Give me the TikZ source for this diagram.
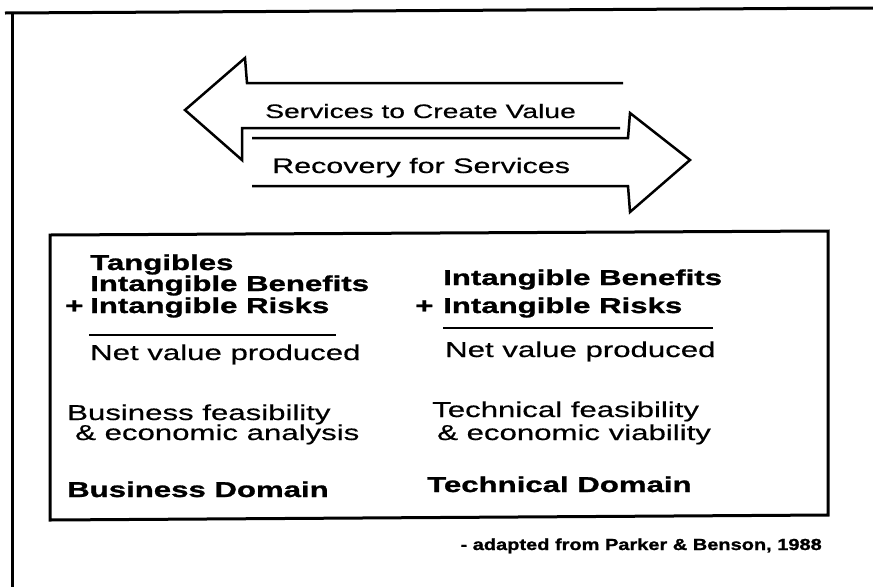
\documentclass[tikz,border=0pt]{standalone}
\usepackage{fontspec}
\setmainfont{Liberation Sans}[FakeStretch=1.45, FakeBold=0.5, BoldFeatures={FakeBold=1.2}]
\newfontfamily\srcfont{Liberation Sans}[FakeStretch=1.25, BoldFeatures={FakeBold=1.2}]
\begin{document}
\begin{tikzpicture}[x=1pt,y=-1pt,
  reg/.style={font=\fontsize{21.5}{21.5}\selectfont, inner sep=0pt, anchor=base west},
  bld/.style={font=\fontsize{21.5}{21.5}\selectfont\bfseries, inner sep=0pt, anchor=base west},
  frameline/.style={line width=3pt, line join=miter},
  arrowline/.style={line width=2.5pt, line join=miter},
  ruleline/.style={line width=2.2pt}]
\useasboundingbox (0,0) rectangle (873,587);
% outer frame (only top and left edges visible)
\draw[frameline] (5,13) -- (873,8);
\draw[frameline] (12,13) -- (12,587);
% left arrow
\draw[arrowline] (623,83) -- (247,83) -- (245,58) -- (185,110) -- (242,160) -- (242,128) -- (620,128);
% right arrow
\draw[arrowline] (252,138) -- (628,138) -- (630,113) -- (690,160) -- (630,212) -- (628,186) -- (252,186);
\node[reg, font=\fontsize{19.5}{19.5}\selectfont] (svc) at (265,118) {Services to Create Value};
\node[reg, font=\fontsize{21}{21}\selectfont] (rec) at (272,173) {Recovery for Services};
% inner box
\draw[frameline] (50,235) -- (828,231) -- (828,515) -- (50,520) -- cycle;
% left column
\node[bld] (tang) at (90,270) {Tangibles};
\node[bld] (ibl) at (90,291) {Intangible Benefits};
\node[bld] (plusl) at (65,313) {+};
\node[bld] (irl) at (90,313) {Intangible Risks};
\draw[ruleline] (89,335) -- (336,335);
\node[reg] (nvl) at (90,360) {Net value produced};
\node[reg] (bf1) at (67,420) {Business feasibility};
\node[reg] (bf2) at (75,440) {\& economic analysis};
\node[bld] (bd) at (67,497) {Business Domain};
% right column
\node[bld] (ibr) at (443,285) {Intangible Benefits};
\node[bld] (plusr) at (415,313) {+};
\node[bld] (irr) at (443,313) {Intangible Risks};
\draw[ruleline] (443,328) -- (713,328);
\node[reg] (nvr) at (445,357) {Net value produced};
\node[reg] (tf1) at (432,417) {Technical feasibility};
\node[reg] (tf2) at (437,440) {\& economic viability};
\node[bld] (td) at (427,492) {Technical Domain};
% source
\node[inner sep=0pt, anchor=base east, font=\srcfont\fontsize{16}{16}\selectfont\bfseries] (src) at (822,550) {- adapted from Parker \& Benson, 1988};
\end{tikzpicture}
\end{document}
